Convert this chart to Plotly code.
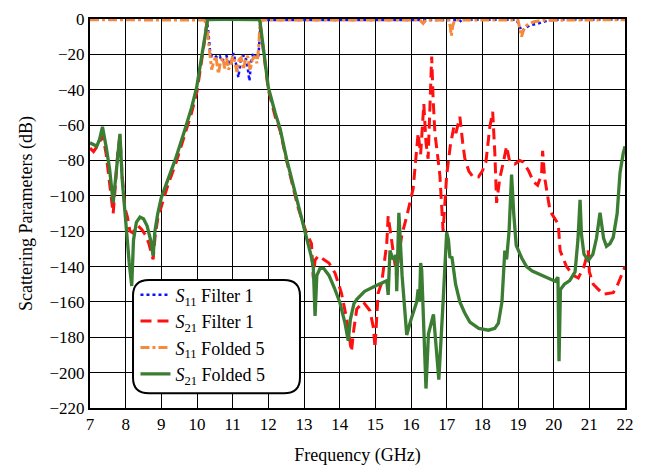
import plotly.graph_objects as go

# ---------------- data ----------------
s11_f1_freq = [7.0, 10.0, 10.25, 10.3, 10.34, 10.37, 10.42, 10.5, 10.57, 10.64, 10.7, 10.77, 10.83, 10.9,
               10.97, 11.02, 11.09, 11.16, 11.22, 11.28, 11.35, 11.41, 11.47, 11.52, 11.58, 11.65, 11.72,
               11.75, 11.78, 11.83, 16.0, 17.35, 17.42, 17.5, 18.95, 19.03, 19.08, 19.12, 19.2, 19.35,
               19.52, 19.7, 19.85, 20.2, 22.0]
s11_f1_db = [-0.2, -0.3, -0.8, -4, -12, -19, -21, -20.5, -22, -21, -24, -21.5, -21, -25,
             -24, -19.3, -25, -33, -24, -21, -20.5, -26, -35, -24, -19.3, -21, -22,
             -12, -3, -0.5, -0.4, -0.5, -1.7, -0.4, -0.5, -3, -6, -7, -5, -3.5,
             -2.8, -1.5, -0.8, -0.3, -0.2]

s21_f1_freq = [7.0, 7.1, 7.2, 7.3, 7.36, 7.45, 7.55, 7.65, 7.72, 7.78, 7.84, 7.9, 7.98, 8.05, 8.12, 8.2,
               8.28, 8.35, 8.45, 8.55, 8.65, 8.77, 8.83, 8.9, 9.06, 9.2, 9.4, 9.66, 9.85, 10.0, 10.1,
               10.2, 10.27, 10.3, 10.8, 11.3, 11.74, 11.77, 11.85, 12.0, 12.19, 12.33, 12.51, 12.84,
               13.05, 13.21, 13.26, 13.31, 13.4, 13.5, 13.7, 13.87, 14.05, 14.2, 14.33, 14.4, 14.48,
               14.66, 14.85, 14.95, 14.99, 15.05, 15.08, 15.18, 15.28, 15.32, 15.36, 15.45, 15.5, 15.6,
               15.65, 15.74, 15.9, 16.06, 16.2, 16.27, 16.36, 16.42, 16.48, 16.53, 16.58, 16.62, 16.67,
               16.75, 16.81, 16.9, 16.95, 17.0, 17.1, 17.2, 17.26, 17.37, 17.45, 17.51, 17.62, 17.74,
               17.89, 18.0, 18.1, 18.21, 18.29, 18.35, 18.4, 18.49, 18.6, 18.68, 18.77, 18.91, 19.05,
               19.15, 19.3, 19.43, 19.55, 19.66, 19.69, 19.75, 19.9, 20.05, 20.13, 20.18, 20.36, 20.55,
               20.69, 20.85, 20.97, 21.0, 21.11, 21.39, 21.67, 21.8, 21.9, 22.0]
s21_f1_db = [-73, -75, -72, -68, -66, -76, -92, -110, -92, -75, -66, -88, -107, -112, -120, -121,
             -118, -117, -119, -122, -127, -136, -122, -113, -102, -93, -82, -66, -53, -41, -28,
             -14, -3, -0.3, -0.2, -0.2, -0.3, -3, -16, -40, -55, -63, -80, -107,
             -120, -127, -146.5, -136.4, -134, -135.4, -138, -143.7, -155, -170, -188, -175, -164,
             -160, -165, -175, -186, -165, -155, -149, -135, -127, -111.5, -124, -130, -145.6,
             -135, -122.5, -110, -96, -64.5, -76.5, -48, -70, -79, -50, -21.2, -45, -64.5,
             -78, -88.4, -119.8, -100, -88.4, -72, -61, -64.5, -55.3, -70, -79, -86, -89.4,
             -89.4, -86, -81, -61, -52.5, -75.6, -104, -90, -80, -72, -81, -82, -80,
             -81, -86, -92, -94, -88, -74.6, -90, -108.7, -114, -116, -131, -140, -145,
             -146.5, -140, -131, -143, -150, -155.7, -154.8, -150, -145, -140]

s11_f5_freq = [7.0, 10.2, 10.27, 10.32, 10.36, 10.41, 10.47, 10.53, 10.6, 10.66, 10.72, 10.78, 10.83,
               10.88, 10.95, 11.0, 11.06, 11.12, 11.18, 11.24, 11.3, 11.36, 11.42, 11.49, 11.55, 11.62,
               11.68, 11.73, 11.76, 11.8, 16.25, 16.34, 16.42, 17.05, 17.1, 17.13, 17.17, 17.22, 19.0,
               19.06, 19.1, 19.16, 19.25, 19.45, 19.7, 22.0]
s11_f5_db = [-0.4, -0.6, -3, -12, -18, -28.6, -24, -21, -31, -24, -22, -28, -22,
             -28.6, -26, -21, -24, -30, -23, -22, -28.6, -23, -21, -29, -23, -21,
             -25, -16, -5, -0.6, -0.5, -2.5, -0.5, -0.5, -4, -9.5, -4, -0.6, -0.6,
             -6, -10, -6, -3.5, -1.5, -0.7, -0.4]

s21_f5_freq = [7.0, 7.1, 7.19, 7.27, 7.35, 7.45, 7.55, 7.65, 7.72, 7.78, 7.84, 7.9, 8.0, 8.1, 8.17,
               8.22, 8.3, 8.4, 8.5, 8.6, 8.7, 8.77, 8.82, 8.9, 9.0, 9.2, 9.4, 9.66, 9.85, 9.99, 10.1,
               10.2, 10.27, 10.3, 10.8, 11.3, 11.74, 11.77, 11.85, 11.93, 12.0, 12.19, 12.33, 12.51,
               12.84, 13.05, 13.2, 13.26, 13.31, 13.36, 13.45, 13.55, 13.7, 13.85, 14.0, 14.15, 14.24,
               14.3, 14.4, 14.48, 14.7, 15.0, 15.32, 15.36, 15.41, 15.5, 15.58, 15.6, 15.66, 15.75,
               15.88, 16.0, 16.16, 16.2, 16.24, 16.27, 16.3, 16.42, 16.49, 16.63, 16.78, 16.9, 17.0,
               17.05, 17.09, 17.15, 17.25, 17.37, 17.5, 17.65, 17.9, 18.17, 18.35, 18.45, 18.55,
               18.63, 18.68, 18.75, 18.82, 18.88, 18.95, 19.1, 19.24, 19.4, 19.62, 19.8, 20.04, 20.12,
               20.15, 20.19, 20.3, 20.45, 20.6, 20.68, 20.74, 20.78, 20.85, 20.97, 21.1, 21.2, 21.3,
               21.4, 21.48, 21.58, 21.67, 21.78, 21.86, 21.95, 22.0]
s21_f5_db = [-70, -71, -72, -68, -61, -72, -85, -104, -90, -75, -65, -90, -115, -138, -151,
             -125, -115, -112, -113, -117, -125, -134, -120, -110, -101, -90, -79, -62.6, -50, -38.7, -25,
             -12, -2, -0.3, -0.2, -0.2, -0.3, -2, -15, -28, -38.7, -53, -62, -79,
             -105, -122, -134, -140, -168, -145, -141, -141, -145, -152, -160, -172, -182,
             -170, -161, -158.5, -154, -151, -148, -156, -131, -136, -133.6, -154, -109.6, -145,
             -178.7, -170, -160, -153, -160, -138, -142, -209, -178, -167, -204, -160, -120.7,
             -125, -134.5, -135, -150, -160, -166, -171.4, -175, -176, -175, -172, -160,
             -131, -136, -120, -88, -110, -128, -135, -140, -142.5, -144.6, -146, -148.3, -146,
             -193.5, -153, -150, -148, -143, -125, -102.3, -122, -133, -136.5, -133, -124, -109.6,
             -124, -128.6, -127, -123.5, -110, -87, -76, -72]

x_ticks = list(range(7, 23))
y_ticks = list(range(-220, 1, 20))
y_tick_text = [str(v).replace("-", "\u2212") for v in y_ticks]

FONT = "Liberation Serif"

fig = go.Figure()
fig.add_trace(go.Scatter(x=s11_f1_freq, y=s11_f1_db, mode="lines",
                         name="<i>S</i><sub>11</sub> Filter 1",
                         line=dict(color="#1010ff", width=2.5, dash="dot")))
fig.add_trace(go.Scatter(x=s21_f1_freq, y=s21_f1_db, mode="lines",
                         name="<i>S</i><sub>21</sub> Filter 1",
                         line=dict(color="#ff1010", width=3, dash="11px,6px")))
fig.add_trace(go.Scatter(x=s11_f5_freq, y=s11_f5_db, mode="lines",
                         name="<i>S</i><sub>11</sub> Folded 5",
                         line=dict(color="#f58a3c", width=3, dash="dashdot")))
fig.add_trace(go.Scatter(x=s21_f5_freq, y=s21_f5_db, mode="lines",
                         name="<i>S</i><sub>21</sub> Folded 5",
                         line=dict(color="#3b7d32", width=3.3)))

# rounded legend box (paper coordinates)
x0, x1, y0, y1 = 0.0804, 0.3925, 0.0377, 0.3291
rx, ry = 0.030, 0.040
path = (f"M {x0+rx},{y1} L {x1-rx},{y1} Q {x1},{y1} {x1},{y1-ry} "
        f"L {x1},{y0+ry} Q {x1},{y0} {x1-rx},{y0} L {x0+rx},{y0} Q {x0},{y0} {x0},{y0+ry} "
        f"L {x0},{y1-ry} Q {x0},{y1} {x0+rx},{y1} Z")
fig.add_shape(type="path", path=path, xref="paper", yref="paper",
              fillcolor="white", line=dict(color="black", width=2), layer="above")

fig.update_layout(
    width=652, height=472,
    margin=dict(l=90, r=27, t=10, b=64),
    paper_bgcolor="white", plot_bgcolor="white",
    font=dict(family=FONT, size=17, color="black"),
    showlegend=True,
    legend=dict(x=0.085, y=0.338, xanchor="left", yanchor="top",
                bgcolor="rgba(0,0,0,0)", borderwidth=0,
                font=dict(family=FONT, size=18, color="black"),
                itemwidth=30, tracegroupgap=0),
    xaxis=dict(range=[7, 22], tickmode="array", tickvals=x_ticks,
               ticktext=[str(v) for v in x_ticks],
               showgrid=True, gridcolor="black", gridwidth=1,
               showline=True, linecolor="black", linewidth=2, mirror=True,
               ticks="", zeroline=False,
               title=dict(text="Frequency (GHz)", font=dict(family=FONT, size=18), standoff=15),
               tickfont=dict(family=FONT, size=17)),
    yaxis=dict(range=[-220, 0], tickmode="array", tickvals=y_ticks,
               ticktext=y_tick_text,
               showgrid=True, gridcolor="black", gridwidth=1,
               showline=True, linecolor="black", linewidth=2, mirror=True,
               ticks="", zeroline=False,
               title=dict(text="Scattering Parameters (dB)", font=dict(family=FONT, size=18), standoff=12),
               tickfont=dict(family=FONT, size=17)),
)

fig.write_html("out.html")
